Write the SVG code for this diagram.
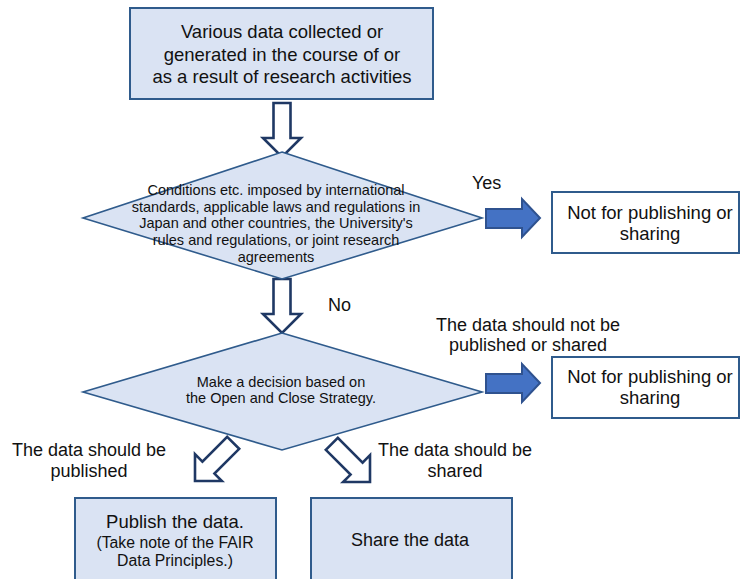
<svg xmlns="http://www.w3.org/2000/svg" xmlns:xlink="http://www.w3.org/1999/xlink" width="741" height="579" viewBox="0 0 741 579">
<style>
text{font-family:"Liberation Sans",Arial,sans-serif;fill:#111;text-anchor:middle}
.box{fill:#dae3f3;stroke:#2f5b8c;stroke-width:2}
.wbox{fill:#ffffff;stroke:#2f5b8c;stroke-width:2}
.dia{fill:#dae3f3;stroke:#2f5b8c;stroke-width:1.6}
.hollow{fill:#ffffff;stroke:#1f3864;stroke-width:2.6;stroke-linejoin:miter}
.blue{fill:#4472c4;stroke:#2f528f;stroke-width:2}
.t18{font-size:18.5px}
.t17{font-size:18px}
.t16{font-size:15.8px}
.t14{font-size:14.5px}
.lab{font-size:18px}
</style>
<defs>
<path id="harrow" d="M-8.5,-54 L8.5,-54 L8.5,-19 L19,-19 L0,0 L-19,-19 L-8.5,-19 Z"/>
</defs>
<g id="connectors">
<use href="#harrow" class="hollow" transform="translate(282,157)"/>
<use href="#harrow" class="hollow" transform="translate(282,333)"/>
<use href="#harrow" class="hollow" transform="translate(195,481) rotate(45)"/>
<use href="#harrow" class="hollow" transform="translate(370,482) rotate(-45)"/>
<path class="blue" d="M486,209 L522,209 L522,199 L540,218 L522,237 L522,228 L486,228 Z"/>
<path class="blue" d="M486,374 L522,374 L522,364 L540,383 L522,402 L522,393 L486,393 Z"/>
<text class="lab" x="472" y="189" style="text-anchor:start">Yes</text>
<text class="lab" x="328" y="311" style="text-anchor:start">No</text>
<text class="lab" x="528" y="331">The data should not be</text>
<text class="lab" x="528" y="351">published or shared</text>
<text class="lab" x="89" y="456">The data should be</text>
<text class="lab" x="89" y="477">published</text>
<text class="lab" x="455" y="456">The data should be</text>
<text class="lab" x="455" y="477">shared</text>
</g>
<g id="start">
<rect class="box" x="130" y="8" width="303" height="91"/>
<text class="t18" x="282" y="38">Various data collected or</text>
<text class="t18" x="282" y="61">generated in the course of or</text>
<text class="t18" x="282" y="83">as a result of research activities</text>
</g>
<g id="decision1">
<polygon class="dia" points="282,152 482,218 282,279 83,218"/>
<text class="t14" x="276" y="195">Conditions etc. imposed by international</text>
<text class="t14" x="276" y="212">standards, applicable laws and regulations in</text>
<text class="t14" x="276" y="228">Japan and other countries, the University's</text>
<text class="t14" x="276" y="245">rules and regulations, or joint research</text>
<text class="t14" x="276" y="262">agreements</text>
</g>
<g id="notfor1">
<rect class="wbox" x="552" y="192" width="187" height="61"/>
<text class="t18" x="650" y="219">Not for publishing or</text>
<text class="t18" x="650" y="240">sharing</text>
</g>
<g id="decision2">
<polygon class="dia" points="282,333 482,392 282,450 83,392"/>
<text class="t14" x="281" y="387">Make a decision based on</text>
<text class="t14" x="281" y="403">the Open and Close Strategy.</text>
</g>
<g id="notfor2">
<rect class="wbox" x="552" y="357" width="187" height="61"/>
<text class="t18" x="650" y="383">Not for publishing or</text>
<text class="t18" x="650" y="404">sharing</text>
</g>
<g id="publish">
<rect class="box" x="75" y="498" width="201" height="90"/>
<text class="t18" x="175" y="528">Publish the data.</text>
<text class="t16" x="175" y="548">(Take note of the FAIR</text>
<text class="t16" x="175" y="566">Data Principles.)</text>
</g>
<g id="share">
<rect class="box" x="311" y="498" width="201" height="90"/>
<text class="t17" x="410" y="546">Share the data</text>
</g>
</svg>
